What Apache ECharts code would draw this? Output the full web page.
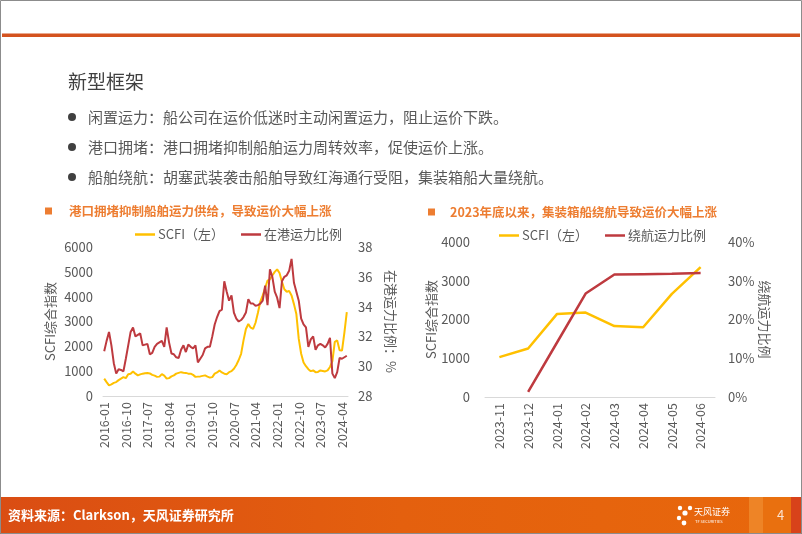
<!DOCTYPE html>
<html><head><meta charset="utf-8">
<script src="https://cdn.jsdelivr.net/npm/echarts@6/dist/echarts.min.js"></script>
<style>html,body{margin:0;padding:0;background:#fff}#c{width:802px;height:534px}</style>
</head><body><div id="c"></div>
<script>
// ---------- data ----------
const months = [];
for (let y = 2016; y <= 2024; y++) {
  for (let m = 1; m <= 12; m++) {
    if (y === 2024 && m > 6) break;
    months.push(y + '-' + String(m).padStart(2, '0'));
  }
}
const scfiMonthly = [700,560,430,470,530,560,640,700,760,720,880,900,
  990,900,830,870,900,920,930,910,850,820,770,780,
  880,820,700,720,790,830,900,930,960,940,930,900,
  900,850,770,780,790,810,830,780,740,760,900,950,
  1030,950,900,880,960,1000,1100,1250,1450,1700,2240,2700,
  2900,2750,2700,2950,3350,3800,4050,4350,4650,4700,4850,5000,
  5100,4950,4600,4300,4200,4230,4050,3700,3300,2300,1700,1350,
  1200,1080,1000,1030,960,970,1030,1010,990,1030,1170,1400,
  2180,2240,1840,1830,2550,3380];
const inPortShare = [31.0,31.7,32.3,31.4,30.2,29.5,29.8,29.75,29.65,30.5,31.4,32.3,
  32.6,32.0,32.1,32.2,31.4,31.45,31.5,30.8,30.9,31.3,31.5,31.6,
  31.7,31.3,32.6,31.6,30.85,30.8,30.6,30.55,31.1,31.4,30.95,31.45,
  31.3,31.2,31.4,30.25,30.5,30.75,31.2,31.3,31.3,32.0,32.8,33.3,
  33.7,33.8,35.7,35.0,34.4,34.75,33.6,33.2,33.0,33.1,33.3,33.6,
  34.5,34.2,34.2,34.05,34.1,34.2,34.4,35.4,34.1,36.5,36.0,35.0,
  34.6,33.9,35.7,36.0,36.1,36.4,37.2,35.6,35.0,34.4,33.2,32.8,
  32.6,31.3,31.8,32.0,31.1,31.4,31.5,31.4,31.25,31.5,31.9,29.5,
  29.2,29.6,30.55,30.5,30.6,30.7];
const months2 = ['2023-11','2023-12','2024-01','2024-02','2024-03','2024-04','2024-05','2024-06'];
const scfiRecent = [1030,1250,2140,2180,1830,1800,2660,3350];
const divertShare = [null,1.3,14,26.7,31.6,31.7,31.8,32.0];

const bullets = [
  '闲置运力：船公司在运价低迷时主动闲置运力，阻止运价下跌。',
  '港口拥堵：港口拥堵抑制船舶运力周转效率，促使运价上涨。',
  '船舶绕航：胡塞武装袭击船舶导致红海通行受阻，集装箱船大量绕航。'
];

// ---------- chart ----------
const FONT = '"Noto Sans CJK SC","Noto Sans",sans-serif';
const GRAY = '#595959';
const YEL = '#FFC000';
const RED = '#BE3A3F';
const ORANGE = '#ED7D31';

const chart = echarts.init(document.getElementById('c'), null, {renderer: 'canvas'});

const graphics = [
  {type:'rect', shape:{x:0.5,y:0.5,width:801,height:533}, style:{fill:'none',stroke:'#8c8c8c',lineWidth:1}, z:100},
  {type:'rect', shape:{x:2,y:33.5,width:798,height:3.5}, style:{fill:'#D4531F'}},
  {type:'text', x:68, y:82, style:{text:'新型框架', fontSize:19, fontFamily:FONT, fill:'#404040', verticalAlign:'middle'}},
  {type:'rect', shape:{x:45,y:207.5,width:7,height:7}, style:{fill:ORANGE}},
  {type:'text', x:69, y:211, style:{text:'港口拥堵抑制船舶运力供给，导致运价大幅上涨', fontSize:12.5, fontWeight:'bold', fontFamily:FONT, fill:ORANGE, verticalAlign:'middle'}},
  {type:'rect', shape:{x:428,y:208.5,width:7,height:7}, style:{fill:ORANGE}},
  {type:'text', x:450, y:212, style:{text:'2023年底以来，集装箱船绕航导致运价大幅上涨', fontSize:12.5, fontWeight:'bold', fontFamily:FONT, fill:ORANGE, verticalAlign:'middle'}},
  // footer
  {type:'rect', shape:{x:0,y:497,width:802,height:37}, style:{fill:new echarts.graphic.LinearGradient(0,0,1,0,[{offset:0,color:'#DA4D13'},{offset:0.5,color:'#E4600E'},{offset:1,color:'#E8680C'}])}},
  {type:'rect', shape:{x:749,y:497,width:14,height:37}, style:{fill:'#EE8426'}},
  {type:'rect', shape:{x:763,y:497,width:28,height:37}, style:{fill:'#E9700F'}},
  {type:'rect', shape:{x:791,y:497,width:11,height:37}, style:{fill:'#D8421A'}},
  {type:'text', x:8, y:515, style:{text:'资料来源：Clarkson，天风证券研究所', fontSize:13, fontWeight:'bold', fontFamily:FONT, fill:'#ffffff', verticalAlign:'middle'}},
  {type:'text', x:777, y:515, style:{text:'4', fontSize:13, fontFamily:FONT, fill:'#FBE3D0', verticalAlign:'middle'}},
  // logo
  {type:'circle', shape:{cx:680,cy:508,r:2.2}, style:{fill:'#fff'}},
  {type:'circle', shape:{cx:690,cy:508,r:2.2}, style:{fill:'#fff'}},
  {type:'circle', shape:{cx:685,cy:513,r:2.6}, style:{fill:'#fff'}},
  {type:'circle', shape:{cx:679,cy:518,r:2.2}, style:{fill:'#fff'}},
  {type:'circle', shape:{cx:684,cy:523,r:2.4}, style:{fill:'#fff'}},
  {type:'text', x:694, y:512, style:{text:'天风证券', fontSize:9, fontFamily:FONT, fill:'#fff', verticalAlign:'middle'}},
  {type:'text', x:695, y:521, style:{text:'TF SECURITIES', fontSize:4, fontFamily:FONT, fill:'#fff', verticalAlign:'middle'}}
];
const bulletY = [117, 147, 177];
bullets.forEach((t, i) => {
  graphics.push({type:'circle', shape:{cx:72, cy:bulletY[i], r:4}, style:{fill:'#404040'}});
  graphics.push({type:'text', x:88, y:bulletY[i], style:{text:t, fontSize:15, fontFamily:FONT, fill:GRAY, verticalAlign:'middle'}});
});

const axisLabelStyle = {color: GRAY, fontSize: 13, fontFamily: FONT};
const plain = v => String(v);

const option = {
  animation: false,
  textStyle: {fontFamily: FONT},
  graphic: graphics,
  legend: [
    {left: 135, top: 228, padding: 0, itemGap: 17, itemWidth: 20, itemHeight: 2.5, icon: 'rect',
     textStyle: {color: GRAY, fontSize: 13, fontFamily: FONT, padding: [0,0,0,-2]},
     data: ['SCFI（左）', '在港运力比例']},
    {left: 499, top: 229, padding: 0, itemGap: 17, itemWidth: 20, itemHeight: 2.5, icon: 'rect',
     textStyle: {color: GRAY, fontSize: 13, fontFamily: FONT, padding: [0,0,0,-2]},
     data: ['SCFI（左）', '绕航运力比例']}
  ],
  grid: [
    {left: 103, right: 454, top: 247, bottom: 138},
    {left: 485, right: 87, top: 242, bottom: 137}
  ],
  xAxis: [
    {type: 'category', gridIndex: 0, data: months, boundaryGap: true,
     axisLine: {lineStyle: {color: '#D9D9D9', width: 1}}, axisTick: {show: false},
     axisLabel: Object.assign({}, axisLabelStyle, {fontSize: 12.5, rotate: 90, interval: 8, margin: 6})},
    {type: 'category', gridIndex: 1, data: months2, boundaryGap: true,
     axisLine: {lineStyle: {color: '#D9D9D9', width: 1}}, axisTick: {show: false},
     axisLabel: Object.assign({}, axisLabelStyle, {fontSize: 12.5, rotate: 90, interval: 0, margin: 6})}
  ],
  yAxis: [
    {type: 'value', gridIndex: 0, min: 0, max: 6000, interval: 1000, position: 'left',
     splitLine: {show: false}, axisLine: {show: false}, axisTick: {show: false},
     axisLabel: Object.assign({}, axisLabelStyle, {margin: 10, formatter: plain}),
     name: 'SCFI综合指数', nameLocation: 'middle', nameGap: 46,
     nameTextStyle: {color: GRAY, fontSize: 13, fontFamily: FONT}},
    {type: 'value', gridIndex: 0, min: 28, max: 38, interval: 2, position: 'right',
     splitLine: {show: false}, axisLine: {show: false}, axisTick: {show: false},
     axisLabel: Object.assign({}, axisLabelStyle, {margin: 10, formatter: plain}),
     name: '在港运力比例：%', nameLocation: 'middle', nameGap: 36, nameRotate: -90,
     nameTextStyle: {color: GRAY, fontSize: 13, fontFamily: FONT}},
    {type: 'value', gridIndex: 1, min: 0, max: 4000, interval: 1000, position: 'left',
     splitLine: {show: false}, axisLine: {show: false}, axisTick: {show: false},
     axisLabel: Object.assign({}, axisLabelStyle, {margin: 15, formatter: plain}),
     name: 'SCFI综合指数', nameLocation: 'middle', nameGap: 45,
     nameTextStyle: {color: GRAY, fontSize: 13, fontFamily: FONT}},
    {type: 'value', gridIndex: 1, min: 0, max: 40, interval: 10, position: 'right',
     splitLine: {show: false}, axisLine: {show: false}, axisTick: {show: false},
     axisLabel: Object.assign({}, axisLabelStyle, {margin: 13, formatter: '{value}%'}),
     name: '绕航运力比例', nameLocation: 'middle', nameGap: 41, nameRotate: -90,
     nameTextStyle: {color: GRAY, fontSize: 13, fontFamily: FONT}}
  ],
  series: [
    {name: 'SCFI（左）', type: 'line', xAxisIndex: 0, yAxisIndex: 0, data: scfiMonthly,
     showSymbol: false, symbol: 'none', lineStyle: {color: YEL, width: 2}, itemStyle: {color: YEL}},
    {name: '在港运力比例', type: 'line', xAxisIndex: 0, yAxisIndex: 1, data: inPortShare,
     showSymbol: false, symbol: 'none', lineStyle: {color: RED, width: 2}, itemStyle: {color: RED}},
    {name: 'SCFI（左）', type: 'line', xAxisIndex: 1, yAxisIndex: 2, data: scfiRecent,
     showSymbol: false, symbol: 'none', lineStyle: {color: YEL, width: 2.5}, itemStyle: {color: YEL}},
    {name: '绕航运力比例', type: 'line', xAxisIndex: 1, yAxisIndex: 3, data: divertShare,
     showSymbol: false, symbol: 'none', lineStyle: {color: RED, width: 2.5}, itemStyle: {color: RED}}
  ]
};
chart.setOption(option);
</script>
</body></html>
